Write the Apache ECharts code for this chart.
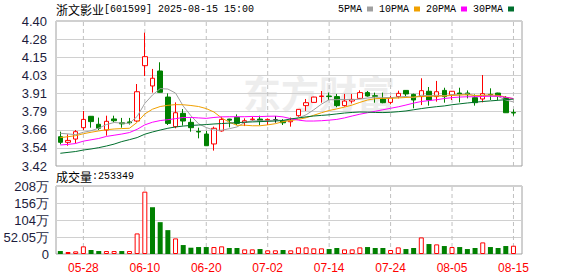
<!DOCTYPE html>
<html><head><meta charset="utf-8">
<script src="https://cdn.jsdelivr.net/npm/echarts@6/dist/echarts.min.js"></script>
<style>html,body{margin:0;padding:0;background:#fff}#c{width:578px;height:276px}</style>
</head><body><div id="c"></div>
<script>
const dates = ['05-23','05-26','05-27','05-28','05-29','05-30','06-03','06-04','06-05','06-06',
  '06-09','06-10','06-11','06-12','06-13','06-16','06-17','06-18','06-19','06-20',
  '06-23','06-24','06-25','06-26','06-27','06-30','07-01','07-02','07-03','07-04',
  '07-07','07-08','07-09','07-10','07-11','07-14','07-15','07-16','07-17','07-18',
  '07-21','07-22','07-23','07-24','07-25','07-28','07-29','07-30','07-31','08-01',
  '08-04','08-05','08-06','08-07','08-08','08-11','08-12','08-13','08-14','08-15'];
const opens = [3.618,3.580,3.602,3.679,3.756,3.702,3.663,3.738,3.712,3.718,
  3.724,4.098,3.961,4.062,3.886,3.686,3.776,3.715,3.654,3.636,
  3.569,3.657,3.737,3.749,3.715,3.733,3.737,3.728,3.733,3.725,
  3.719,3.760,3.828,3.850,3.890,3.893,3.889,3.828,3.859,3.877,
  3.916,3.895,3.873,3.850,3.889,3.931,3.904,3.889,3.925,3.889,
  3.931,3.900,3.913,3.913,3.882,3.873,3.904,3.913,3.882,3.782];
const closes = [3.580,3.593,3.652,3.735,3.720,3.675,3.722,3.726,3.705,3.712,
  3.922,4.159,4.013,3.918,3.708,3.780,3.724,3.679,3.650,3.557,
  3.675,3.735,3.730,3.708,3.726,3.737,3.726,3.735,3.733,3.712,
  3.728,3.803,3.848,3.886,3.893,3.889,3.828,3.859,3.870,3.916,
  3.893,3.891,3.848,3.882,3.911,3.907,3.866,3.929,3.866,3.922,
  3.889,3.925,3.907,3.902,3.848,3.909,3.900,3.895,3.780,3.778];
const lows = [3.566,3.557,3.573,3.663,3.679,3.663,3.625,3.715,3.679,3.700,
  3.718,4.028,3.916,3.915,3.697,3.675,3.693,3.652,3.607,3.555,
  3.524,3.652,3.681,3.697,3.690,3.724,3.697,3.697,3.713,3.697,
  3.686,3.753,3.792,3.848,3.848,3.866,3.817,3.821,3.843,3.873,
  3.889,3.848,3.844,3.837,3.877,3.893,3.810,3.832,3.828,3.855,
  3.848,3.866,3.850,3.877,3.828,3.850,3.866,3.866,3.778,3.760];
const highs = [3.652,3.634,3.663,3.792,3.758,3.747,3.760,3.760,3.745,3.745,
  3.974,4.321,4.076,4.121,3.911,3.850,3.805,3.742,3.679,3.657,
  3.686,3.753,3.739,3.769,3.742,3.753,3.760,3.742,3.758,3.737,
  3.747,3.805,3.873,3.888,3.927,3.916,3.907,3.907,3.907,3.931,
  3.927,3.916,3.916,3.893,3.929,3.933,3.909,4.013,3.954,3.995,
  3.949,3.927,3.949,3.931,3.904,4.035,3.945,3.915,3.893,3.803];
const ma5 = [3.641,3.637,3.632,3.648,3.658,3.676,3.700,3.714,3.710,3.708,
  3.755,3.843,3.900,3.943,3.940,3.913,3.825,3.760,3.705,3.680,
  3.662,3.662,3.672,3.684,3.714,3.726,3.725,3.726,3.731,3.728,
  3.727,3.745,3.766,3.800,3.838,3.868,3.868,3.870,3.868,3.872,
  3.880,3.885,3.884,3.882,3.886,3.890,3.882,3.898,3.896,3.898,
  3.895,3.902,3.902,3.908,3.894,3.897,3.893,3.890,3.866,3.853];
const ma10 = [3.612,3.618,3.625,3.638,3.648,3.657,3.665,3.670,3.673,3.675,
  3.715,3.772,3.804,3.822,3.830,3.835,3.834,3.829,3.822,3.808,
  3.785,3.745,3.716,3.695,3.696,3.692,3.692,3.698,3.706,3.720,
  3.727,3.735,3.746,3.763,3.780,3.795,3.806,3.818,3.832,3.850,
  3.866,3.875,3.877,3.877,3.880,3.883,3.886,3.890,3.891,3.892,
  3.893,3.897,3.899,3.902,3.897,3.898,3.901,3.897,3.886,3.874];
const ma20 = [3.562,3.566,3.572,3.588,3.597,3.606,3.620,3.628,3.636,3.646,
  3.668,3.698,3.716,3.727,3.733,3.740,3.748,3.748,3.745,3.742,
  3.748,3.752,3.753,3.753,3.753,3.755,3.754,3.756,3.757,3.752,
  3.740,3.730,3.724,3.724,3.726,3.730,3.735,3.745,3.758,3.770,
  3.780,3.790,3.800,3.810,3.820,3.832,3.845,3.856,3.862,3.868,
  3.876,3.882,3.886,3.888,3.888,3.890,3.892,3.892,3.884,3.876];
const ma30 = [3.506,3.512,3.518,3.528,3.535,3.544,3.555,3.568,3.585,3.598,
  3.612,3.635,3.650,3.663,3.675,3.684,3.690,3.694,3.697,3.700,
  3.704,3.707,3.710,3.713,3.716,3.718,3.720,3.722,3.724,3.728,
  3.738,3.745,3.752,3.758,3.762,3.766,3.772,3.778,3.782,3.785,
  3.784,3.782,3.781,3.783,3.787,3.792,3.800,3.808,3.815,3.821,
  3.826,3.834,3.840,3.846,3.851,3.856,3.860,3.864,3.868,3.872];
const volumes = [91000,61000,81000,234000,122000,91000,91000,91000,91000,91000,
  630000,1909000,1432000,975000,731000,477000,274000,193000,213000,213000,
  213000,234000,183000,183000,142000,142000,152000,112000,112000,122000,
  112000,203000,203000,173000,173000,152000,183000,142000,142000,203000,
  213000,183000,183000,122000,203000,152000,183000,508000,305000,295000,
  244000,213000,213000,152000,183000,355000,213000,183000,244000,253349];
const volUp = [0,1,1,1,0,0,1,1,0,1, 1,1,0,0,0,1,0,0,0,0, 1,1,0,0,1,1,0,1,1,0,
  1,1,1,1,1,0,0,1,1,1, 0,0,0,1,1,0,0,1,0,1, 0,1,0,0,0,1,0,0,0,1];
const dateTicks = ['05-28','06-10','06-20','07-02','07-14','07-24','08-05','08-15'];
const priceTickLabels = ['3.42','3.54','3.66','3.79','3.91','4.03','4.15','4.28','4.40'];
const volTickLabels = ['0','52.05万','104万','156万','208万'];
const priceMin = 3.42, priceMax = 4.40, volMax = 2082000;
const seriesNames = ['5PMA','10PMA','20PMA','30PMA'];

const RED = '#ff0000', GREEN = '#008000';
const MA_COLORS = ['#a0a0a0', '#f0a000', '#ff00ff', '#006f2e'];
const priceStep = (priceMax - priceMin) / (priceTickLabels.length - 1);
const priceTicks = priceTickLabels.map((_, k) => priceMin + k * priceStep);
const volStep = volMax / (volTickLabels.length - 1);
const isTick = (idx) => dateTicks.indexOf(dates[idx]) >= 0;
const monoFont = "'Liberation Mono', monospace";
const cjkFont = "'Noto Sans CJK SC', sans-serif";
const axisFont = "'Liberation Sans', Arial, sans-serif";

const chart = echarts.init(document.getElementById('c'), null, {renderer: 'svg'});
const frameL = 56, frameW = 466, dataL = 56.5, dataW = 460.8;
const kTop = 21, kH = 145, vTop = 186, vH = 68;

const hiddenCat = (gi) => ({type: 'category', gridIndex: gi, data: dates, show: false});
const guideStyle = {color: '#c0c0c0', type: [4, 3], width: 1};
const guideSeries = (xi, yi, lo, hi) => dateTicks.map((d) => ({
  type: 'line', xAxisIndex: xi, yAxisIndex: yi, data: [[d, lo], [d, hi]],
  symbol: 'none', silent: true, z: 1, clip: false, lineStyle: guideStyle,
  emphasis: {disabled: true}, tooltip: {show: false}
}));

const option = {
  animation: false,
  backgroundColor: '#fff',
  grid: [
    {left: frameL, top: kTop, width: frameW, height: kH, show: true, borderColor: '#a0a0a0', borderWidth: 1, backgroundColor: 'transparent'},
    {left: dataL, top: kTop, width: dataW, height: kH},
    {left: frameL, top: vTop, width: frameW, height: vH, show: true, borderColor: '#a0a0a0', borderWidth: 1, backgroundColor: 'transparent'},
    {left: dataL, top: vTop, width: dataW, height: vH}
  ],
  xAxis: [
    hiddenCat(0),
    {type: 'category', gridIndex: 1, data: dates, boundaryGap: true,
      axisLine: {show: false, onZero: false}, axisTick: {show: false},
      axisLabel: {show: false}, splitLine: {show: false}},
    hiddenCat(2),
    {type: 'category', gridIndex: 3, data: dates, boundaryGap: true,
      axisLine: {show: false, onZero: false}, axisTick: {show: false},
      axisLabel: {show: true, interval: (i) => isTick(i), color: RED, fontSize: 12,
        fontFamily: axisFont, margin: 8},
      splitLine: {show: false}}
  ],
  yAxis: [
    {type: 'value', gridIndex: 0, min: priceMin, max: priceMax, scale: true,
      axisLine: {show: false},
      axisTick: {show: false, customValues: priceTicks},
      axisLabel: {customValues: priceTicks, fontSize: 13, fontFamily: axisFont, color: '#1c1c3c', margin: 9,
        formatter: (v) => priceTickLabels[Math.round((v - priceMin) / priceStep)]},
      splitLine: {show: true, lineStyle: {color: '#d0d0d0', width: 1}}},
    {type: 'value', gridIndex: 1, min: priceMin, max: priceMax, scale: true, show: false, splitLine: {show: false}},
    {type: 'value', gridIndex: 2, min: 0, max: volMax, interval: volStep,
      axisLine: {show: false}, axisTick: {show: false},
      axisLabel: {fontSize: 13, fontFamily: axisFont, color: '#1c1c3c', margin: 7,
        formatter: (v) => volTickLabels[Math.round(v / volStep)]},
      splitLine: {show: true, lineStyle: {color: '#d0d0d0', width: 1}}},
    {type: 'value', gridIndex: 3, min: 0, max: volMax, show: false, splitLine: {show: false}}
  ],
  legend: {
    data: seriesNames, left: 338, top: 4, align: 'right', icon: 'rect',
    itemWidth: 6, itemHeight: 5, itemGap: 6, padding: 0,
    textStyle: {fontFamily: monoFont, fontSize: 10, color: '#000'},
    selectedMode: false
  },
  graphic: [
    {type: 'text', left: 243, top: 72, z: 0, silent: true,
      style: {text: '东方财富', fill: '#ededed', font: "bold 38px 'Noto Sans CJK SC'"}},
    {type: 'text', left: 56, top: 3, z: 10,
      style: {rich: {c: {fontFamily: cjkFont, fontSize: 12, fill: '#000'},
                     a: {fontFamily: monoFont, fontSize: 10, fill: '#000'}},
              text: '{c|浙文影业}{a|[601599] 2025-08-15 15:00}'}},
    {type: 'text', left: 56, top: 170, z: 10,
      style: {rich: {c: {fontFamily: cjkFont, fontSize: 12, fill: '#000'},
                     a: {fontFamily: monoFont, fontSize: 10, fill: '#000'}},
              text: '{c|成交量}{a|:' + volumes[volumes.length - 1] + '}'}}
  ],
  series: [
    ...guideSeries(1, 1, priceMin, priceMax),
    ...guideSeries(3, 3, 0, volMax),
    {type: 'candlestick', xAxisIndex: 1, yAxisIndex: 1, barWidth: 5,
      data: dates.map((d, i) => [opens[i], closes[i], lows[i], highs[i]]),
      itemStyle: {color: '#ffffff', color0: GREEN, borderColor: RED, borderColor0: GREEN,
        borderColorDoji: '#000', borderWidth: 1}},
    ...[ma5, ma10, ma20, ma30].map((arr, k) => ({
      name: seriesNames[k], type: 'line', xAxisIndex: 1, yAxisIndex: 1, data: arr,
      symbol: 'none', smooth: false, lineStyle: {color: MA_COLORS[k], width: 1},
      itemStyle: {color: MA_COLORS[k]}
    })),
    {type: 'bar', xAxisIndex: 3, yAxisIndex: 3, barWidth: 5,
      data: volumes.map((v, i) => ({value: v,
        itemStyle: volUp[i] ? {color: '#ffffff', borderColor: RED, borderWidth: 1}
                            : {color: GREEN, borderColor: GREEN, borderWidth: 0}}))}
  ]
};
chart.setOption(option);
</script></body></html>
